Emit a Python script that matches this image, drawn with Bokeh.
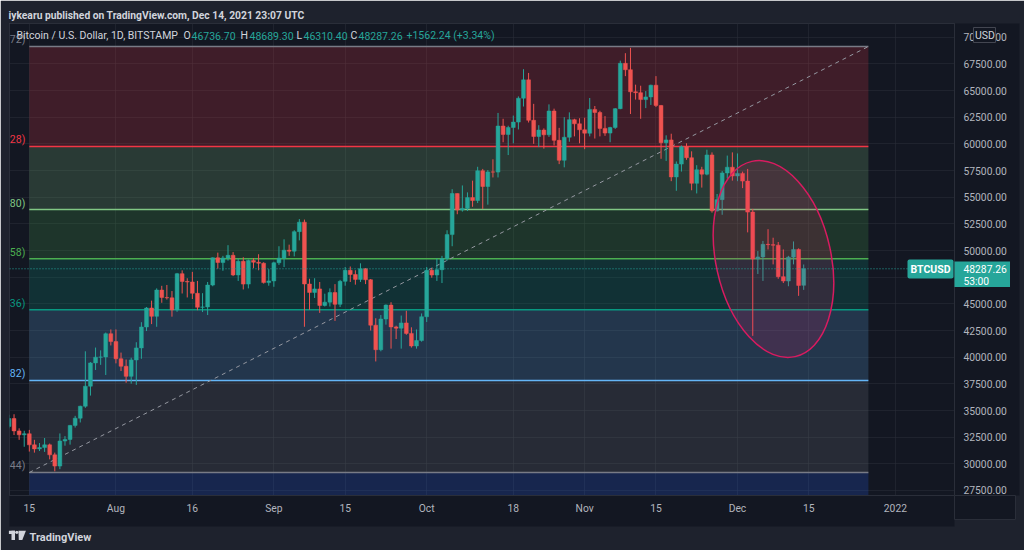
import datetime as dt
from bokeh.plotting import figure
from bokeh.models import Range1d, FixedTicker, NumeralTickFormatter, Label, Span, ColumnDataSource, Title
from bokeh.core.properties import value
from bokeh.embed import file_html
from bokeh.resources import INLINE

# ---------------- data ----------------
start_date = dt.date(2021, 7, 11)
opens = [33510, 34250, 33090, 32720, 32820, 31780, 31400, 31520, 31780, 30840, 29790, 32140, 32290, 33600, 34280, 35400, 37280, 39460, 40000, 40020, 42200,
         41460, 39850, 39150, 38200, 39740, 40870, 42830, 44610, 43830, 46290, 45600, 45560, 44430, 47830, 47100, 47050, 45990, 44680, 44710, 46760, 49320, 48870, 49300, 49550, 47710, 48990, 46850, 49070, 48900, 48810, 46990,
         47150, 48850, 49280, 50030, 49940, 51770, 52660, 46860, 46070, 46400, 44850, 45160, 46060, 44960, 47110, 48140, 47750, 47290, 48300, 47260, 43000, 40700, 43580, 44880, 42840, 42720, 43210, 42230, 41050, 41560,
         43790, 48140, 47700, 48200, 49240, 51490, 55340, 53800, 53950, 54960, 54690, 57480, 56000, 57370, 57350, 61670, 60880, 61530, 62040, 64280, 66000, 62210, 60690, 61290, 60850, 63080, 60330, 58460, 60620, 62270, 61880,
         61320, 61000, 63230, 62940, 61450, 61010, 61530, 63300, 67550, 66950, 64880, 64800, 64150, 64400, 65500, 63600, 60100, 60370, 56900, 58100, 59730, 58700, 56300, 57570, 57160, 58960, 53720, 54770, 57270, 57810,
         56990, 57230, 56510, 53600, 49200, 49400, 50580, 50550, 50500, 47550, 47140, 49380, 50100, 46736.70]
highs = [34600, 34650, 33330, 33100, 33180, 32250, 31950, 32420, 31900, 31050, 32850, 32600, 33650, 34500, 35450, 40550, 39540, 40900, 40640, 42310, 42600,
         42600, 40430, 39780, 39950, 41400, 43280, 44700, 45300, 46450, 46690, 46770, 46200, 47900, 48140, 47400, 48000, 47150, 46000, 47050, 49350, 49800, 49500, 50500, 49850, 49250, 49370, 49150, 49300, 49650, 48900, 48250,
         48950, 50400, 51050, 50550, 51900, 52950, 52900, 47350, 47400, 47050, 45950, 46450, 46850, 47250, 48450, 48500, 48150, 48800, 48350, 47330, 43650, 43950, 44950, 45150, 42950, 43900, 44350, 42800, 42600, 44100,
         48450, 48350, 49250, 49500, 51900, 55750, 55350, 56100, 55450, 56550, 57850, 57650, 57550, 58550, 62900, 62350, 61700, 62650, 64450, 67000, 66650, 63750, 61750, 61450, 63700, 63300, 61500, 62500, 62950, 62350, 62400,
         62450, 64300, 63550, 63100, 62600, 61600, 63350, 67800, 68500, 69000, 65550, 65450, 64950, 65550, 66350, 63650, 60800, 60950, 58350, 59850, 60050, 59300, 58000, 57850, 59450, 59200, 55300, 57450, 58900, 59200,
         59100, 57400, 57650, 53900, 49950, 50900, 52000, 51200, 50800, 50100, 49500, 50850, 50200, 48689.30]
lows = [33330, 32700, 32250, 31600, 31150, 31050, 31200, 31120, 30420, 29300, 29500, 31700, 31800, 33400, 33880, 35250, 36400, 38800, 39280, 38330, 41100,
        39420, 38700, 37600, 37520, 37400, 39850, 42450, 43100, 42850, 45100, 45400, 43800, 44250, 45970, 45600, 45450, 44400, 44230, 43950, 46650, 48300, 48100, 49050, 47600, 47150, 46350, 46450, 48350, 48150, 46900, 46700,
        46600, 48650, 48450, 49500, 49450, 50950, 42850, 44450, 45550, 44150, 44750, 44750, 43400, 44700, 46700, 47050, 46800, 47050, 46850, 42500, 39600, 40550, 43050, 40800, 41700, 40800, 42100, 40900, 40800, 41450,
        43300, 47450, 47150, 46950, 49050, 50400, 53400, 53650, 53700, 54100, 54450, 53900, 54300, 56850, 56850, 60150, 58950, 60050, 61350, 63500, 62000, 60000, 59700, 59550, 60650, 59850, 58100, 57800, 60200, 60700, 60050,
        59500, 60700, 60500, 60700, 60750, 60150, 61400, 63250, 66350, 62800, 64150, 62350, 63350, 63650, 63450, 58600, 58400, 56500, 55600, 57400, 58500, 55650, 55350, 55900, 57050, 53550, 53650, 53350, 56750, 56550,
        56500, 55850, 51700, 42000, 47800, 47150, 50100, 48700, 47350, 46950, 46650, 48700, 45750, 46310.40]
closes = [34250, 33090, 32720, 32820, 31780, 31400, 31520, 31780, 30840, 29790, 32140, 32290, 33600, 34280, 35400, 37280, 39460, 40000, 40020, 42200, 41460,
          39850, 39150, 38200, 39740, 40870, 42830, 44610, 43830, 46290, 45600, 45560, 44430, 47830, 47100, 47050, 45990, 44680, 44710, 46760, 49320, 48870, 49300, 49550, 47710, 48990, 46850, 49070, 48900, 48810, 46990, 47150,
          48850, 49280, 50030, 49940, 51770, 52660, 46860, 46070, 46400, 44850, 45160, 46060, 44960, 47110, 48140, 47750, 47290, 48300, 47260, 43000, 40700, 43580, 44880, 42840, 42720, 43210, 42230, 41050, 41560, 43790,
          48140, 47700, 48200, 49240, 51490, 55340, 53800, 53950, 54960, 54690, 57480, 56000, 57370, 57350, 61670, 60880, 61530, 62040, 64280, 66000, 62210, 60690, 61290, 60850, 63080, 60330, 58460, 60620, 62270, 61880, 61320,
          61000, 63230, 62940, 61450, 61010, 61530, 63300, 67550, 66950, 64880, 64800, 64150, 64400, 65500, 63600, 60100, 60370, 56900, 58100, 59730, 58700, 56300, 57570, 57160, 58960, 53720, 54770, 57270, 57810, 56990,
          57230, 56510, 53600, 49200, 49400, 50580, 50550, 50500, 47550, 47140, 49380, 50100, 46725.02, 48287.26]

ref_date = dt.date(2021, 7, 15)
x_ticks = [0, 17, 32, 48, 62, 78, 95, 109, 123, 139, 153, 170]
x_tick_labels = ['15', 'Aug', '16', 'Sep', '15', 'Oct', '18', 'Nov', '15', 'Dec', '15', '2022']
price_ticks = [27500, 30000, 32500, 35000, 37500, 40000, 42500, 45000, 47500, 50000,
               52500, 55000, 57500, 60000, 62500, 65000, 67500, 70000]

fib_ratios = [0, 0.236, 0.382, 0.5, 0.618, 0.786, 1, 1.618]
fib_prices = [69128, 59752, 53845, 49224, 44442, 37813, 29188, 4505]
fib_label_tails = ['72)', '28)', '.80)', '.58)', '36)', '.82)', '.44)', '']
fib_x = [0, 164.7]  # day offsets of the two fib anchors

ellipse_center = (146.07, 49205)

symbol_title = "Bitcoin / U.S. Dollar, 1D, BITSTAMP"
header_text = "iykearu published on TradingView.com, Dec 14, 2021 23:07 UTC"
countdown = "53:00"

# ---------------- styles ----------------
UP = '#26a69a'
DOWN = '#ef5350'
BG = '#131722'
FRAME = '#1e222d'
TXT = '#b2b5be'
LIGHT = '#d1d4dc'
fib_colors = ['#787b86', '#f23645', '#81c784', '#4caf50', '#089981', '#64b5f6', '#787b86', '#2962ff']
FONT = 'Roboto'

dates = [start_date + dt.timedelta(days=i) for i in range(len(closes))]
xs = [(d - ref_date).days for d in dates]
colors = [UP if c >= o else DOWN for o, c in zip(opens, closes)]
src = ColumnDataSource(dict(
    x=xs, open=opens, high=highs, low=lows, close=closes,
    top=[max(o, c) for o, c in zip(opens, closes)],
    bottom=[min(o, c) for o, c in zip(opens, closes)],
    color=colors))

p = figure(width=1024, height=550, x_range=Range1d(-3.89, 181.6), y_range=Range1d(27031, 71284),
           output_backend="svg", toolbar_location=None, y_axis_location="right",
           min_border_left=9, min_border_right=70, min_border_top=23, min_border_bottom=55,
           background_fill_color=BG, border_fill_color=FRAME, outline_line_color='#2a2e39')

# header as title
p.add_layout(Title(text=header_text, align='left', offset=-1, standoff=4, text_color=LIGHT,
                   text_font=FONT, text_font_size='10.3px', text_font_style='bold'), 'above')

# axes
yax = p.yaxis[0]
yax.ticker = FixedTicker(ticks=price_ticks)
yax.formatter = NumeralTickFormatter(format="0.00")
xax = p.xaxis[0]
xax.ticker = FixedTicker(ticks=x_ticks)
xax.major_label_overrides = {t: l for t, l in zip(x_ticks, x_tick_labels)}
for ax, st in ((yax, 9), (xax, 6)):
    ax.major_tick_line_color = None
    ax.minor_tick_line_color = None
    ax.major_tick_out = 0
    ax.major_tick_in = 0
    ax.minor_tick_out = 0
    ax.minor_tick_in = 0
    ax.axis_line_color = '#2a2e39'
    ax.major_label_text_color = TXT
    ax.major_label_text_font = FONT
    ax.major_label_text_font_size = '10.3px'
    ax.major_label_standoff = st
    ax.axis_label = ' '
    ax.axis_label_standoff = 0
    try:
        ax.background_fill_color = BG
    except Exception:
        pass
xax.axis_label_text_font_size = '5px'
yax.axis_label_text_font_size = '7px'

# footer wordmark
p.add_layout(Title(text='TradingView', align='left', offset=20, standoff=4, text_color=LIGHT,
                   text_font=FONT, text_font_size='11px', text_font_style='bold'), 'below')

p.xgrid.ticker = FixedTicker(ticks=x_ticks)
p.ygrid.ticker = FixedTicker(ticks=price_ticks)
for g in (p.xgrid[0], p.ygrid[0]):
    g.grid_line_color = '#2a2e39'
    g.grid_line_alpha = 0.55

# fib bands
for i in range(1, len(fib_prices)):
    p.quad(left=[fib_x[0]], right=[fib_x[1]], top=[fib_prices[i - 1]], bottom=[fib_prices[i]],
           fill_color=fib_colors[i], fill_alpha=0.2, line_color=None)
for i in range(len(fib_prices) - 1):
    p.segment(x0=[fib_x[0]], x1=[fib_x[1]], y0=[fib_prices[i]], y1=[fib_prices[i]],
              line_color=fib_colors[i], line_width=1.5)
p.text(x=[fib_x[0]] * 7, y=fib_prices[:7], text=fib_label_tails[:7], x_offset=-4, y_offset=-6.5,
       text_align='right', text_baseline='middle', text_color=fib_colors[:7],
       text_font=value(FONT), text_font_size='10.5px')

# trend line of fib anchors
p.line(x=fib_x, y=[fib_prices[6], fib_prices[0]], line_color='#9598a1', line_dash='4 4', line_width=1)

# current price line
p.add_layout(Span(location=closes[-1], dimension='width', line_color=UP, line_dash='1 2', line_width=1))

# candles
p.segment(x0='x', x1='x', y0='low', y1='high', line_color='color', line_width=1, source=src)
p.vbar(x='x', width=0.75, top='top', bottom='bottom', fill_color='color', line_color='color',
       line_width=0.5, source=src)

# ellipse highlight
p.ellipse(x=[ellipse_center[0]], y=[ellipse_center[1]], width=115, height=200,
          width_units='screen', height_units='screen', angle=0.218,
          fill_color='#e91e63', fill_alpha=0.15, line_color='#d81b60', line_width=1.5)

FH = 472  # frame height in px


def lab(px, py, text, color, size='10.5px', style='normal', align='left', **kw):
    l = Label(x=px - 9, y=FH - (py - 23), x_units='screen', y_units='screen', text=text,
              text_color=color, text_font=FONT, text_font_size=size, text_font_style=style,
              text_align=align, text_baseline='middle', **kw)
    p.add_layout(l)
    return l


# legend line
lab(16, 35, symbol_title, LIGHT)
chg = closes[-1] - closes[-2]
pct = chg / closes[-2] * 100
parts = [(183, 'O', LIGHT), (191, f"{opens[-1]:.2f}", UP),
         (240, 'H', LIGHT), (249, f"{highs[-1]:.2f}", UP),
         (296, 'L', LIGHT), (303, f"{lows[-1]:.2f}", UP),
         (350, 'C', LIGHT), (358, f"{closes[-1]:.2f}", UP),
         (406, f"{chg:+.2f} ({pct:+.2f}%)", UP)]
for px, t, c in parts:
    lab(px, 35, t, c)

b1 = lab(930, 268.5, 'BTCUSD', '#ffffff', style='bold', align='center', background_fill_color=UP)
try:
    b1.padding = 3
    b1.border_radius = 2
except Exception:
    pass


# small overlay figures for items drawn on the price scale / footer
def box_fig(left, top, w, h, fill, outline=None):
    f = figure(width=w, height=h, x_range=Range1d(0, w), y_range=Range1d(0, h),
               output_backend="svg", toolbar_location=None, x_axis_location=None, y_axis_location=None,
               min_border=0, background_fill_color=fill, border_fill_color=fill,
               outline_line_color=outline)
    f.grid.grid_line_color = None
    f.styles = {"position": "absolute", "left": f"{left}px", "top": f"{top}px", "z-index": "5"}
    return f


price_box = box_fig(954, 261, 56, 26, UP)
price_box.text(x=[9, 9], y=[19, 6], text=[f"{closes[-1]:.2f}", countdown], text_color='#ffffff',
               text_baseline='middle', text_font=value(FONT), text_font_size='10.3px')

usd_box = box_fig(973, 27, 23, 16, BG, outline='#434651')
usd_box.text(x=[11.5], y=[8], text=['USD'], text_color=LIGHT, text_align='center',
             text_baseline='middle', text_font=value(FONT), text_font_size='10.5px')

corner = box_fig(954, 495, 62, 25, BG, outline='#2a2e39')

logo = box_fig(8, 529, 18, 11, FRAME)
logo.quad(left=[0.3, 3.0], right=[6.5, 6.5], bottom=[7.5, 0], top=[11, 11], fill_color=LIGHT, line_color=None)
logo.circle(x=[8.3], y=[9.2], radius=1.6, fill_color=LIGHT, line_color=None)
logo.patch(x=[10.0, 17.5, 13.2, 10.3], y=[11, 11, 0, 0], fill_color=LIGHT, line_color=None)

html = file_html([p, price_box, usd_box, corner, logo], INLINE)
html = html.replace("<body", '<body style="margin:0;background-color:#1e222d"', 1)
open("out.html", "w").write(html)
